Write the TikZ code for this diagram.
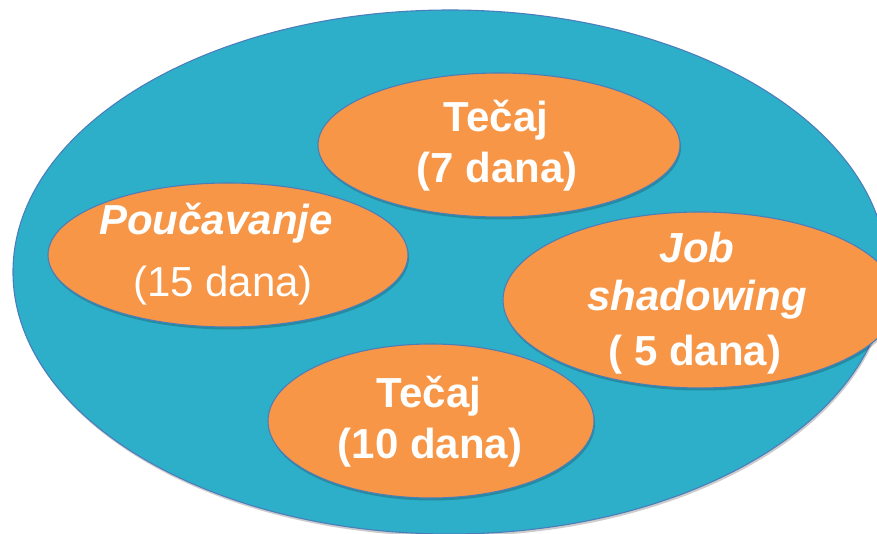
\documentclass[tikz,border=0pt]{standalone}
\usepackage{fontspec}
\setmainfont{Liberation Sans}
\usetikzlibrary{shapes.geometric,shadows}
\definecolor{teal}{RGB}{46,175,201}
\definecolor{orng}{RGB}{247,150,70}
\definecolor{rim}{RGB}{74,126,187}
\begin{document}
\begin{tikzpicture}[x=1pt,y=-1pt,
  blob/.style={ellipse,draw=rim,line width=1.1pt,fill=orng,inner sep=0pt,
    drop shadow={shadow xshift=1pt,shadow yshift=-2.5pt,opacity=0.2,fill=black}},
  big/.style={ellipse,draw=rim,line width=1.1pt,fill=teal,inner sep=0pt,
    drop shadow={shadow xshift=1pt,shadow yshift=-2.5pt,opacity=0.2,fill=black}},
  txt/.style={anchor=base,text=white,inner sep=0pt,font=\fontsize{42}{50}\selectfont}]
\useasboundingbox (0,0) rectangle (877,534);
\node[big,minimum width=874pt,minimum height=524pt] (outer) at (450,272) {};
\node[blob,minimum width=362pt,minimum height=144pt] (e7) at (499,145) {};
\node[blob,minimum width=360pt,minimum height=144pt] (e15) at (228,255) {};
\node[blob,minimum width=394pt,minimum height=176pt] (e5) at (700,300) {};
\node[blob,minimum width=326pt,minimum height=154pt] (e10) at (431,421) {};
\node[txt,font=\fontsize{42}{50}\selectfont\bfseries] (t7a) at (496,132) {Tečaj};
\node[txt,font=\fontsize{42}{50}\selectfont\bfseries] (t7b) at (497,183) {(7 dana)};
\node[txt,font=\fontsize{42}{50}\selectfont\bfseries\itshape] (t15a) at (216,235) {Poučavanje};
\node[txt] (t15b) at (223,297) {(15 dana)};
\node[txt,font=\fontsize{42}{50}\selectfont\bfseries\itshape] (t5a) at (697,263) {Job};
\node[txt,font=\fontsize{42}{50}\selectfont\bfseries\itshape] (t5b) at (697,310) {shadowing};
\node[txt,font=\fontsize{42}{50}\selectfont\bfseries] (t5c) at (695,365) {( 5 dana)};
\node[txt,font=\fontsize{42}{50}\selectfont\bfseries] (t10a) at (429,407) {Tečaj};
\node[txt,font=\fontsize{42}{50}\selectfont\bfseries] (t10b) at (430,458) {(10 dana)};
\end{tikzpicture}
\end{document}
